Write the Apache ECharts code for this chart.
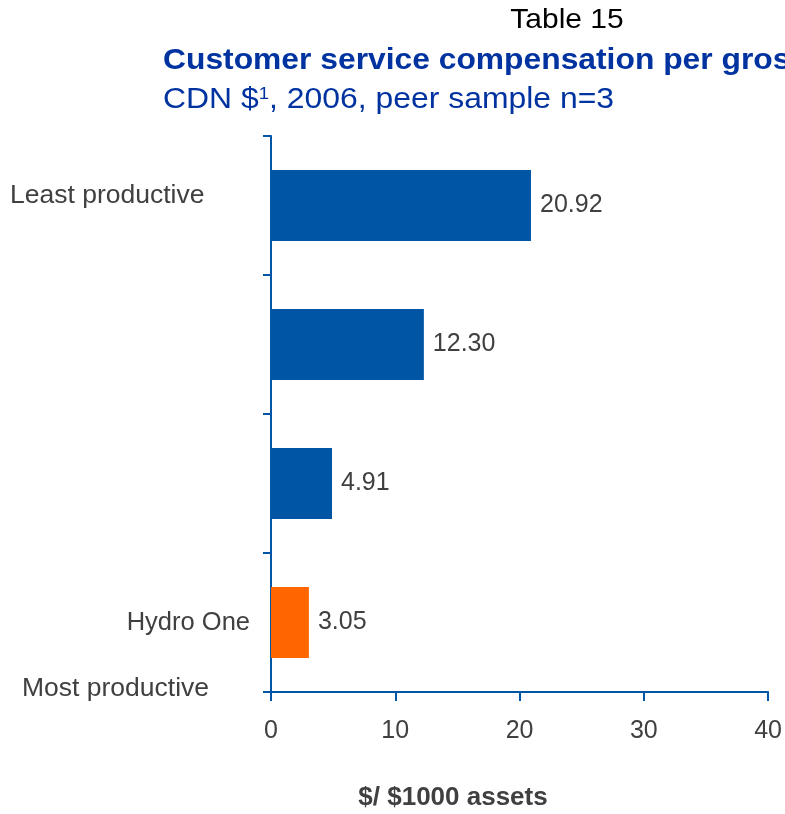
<!DOCTYPE html>
<html>
<head>
<meta charset="utf-8">
<title>Customer service compensation</title>
<script src="https://cdn.jsdelivr.net/npm/echarts@6/dist/echarts.min.js"></script>
<style>
  html, body { margin: 0; padding: 0; background: #ffffff; }
  #chart { width: 785px; height: 814px; }
</style>
</head>
<body>
<div id="chart"></div>
<script>
// Peer utilities ranked from least to most productive
const categories = ['Peer 1', 'Peer 2', 'Peer 3', 'Hydro One'];
const values = [20.92, 12.30, 4.91, 3.05];
const highlightCategory = 'Hydro One';
const xTicks = { min: 0, max: 40, interval: 10 };

const BLUE = '#0055a4';
const ORANGE = '#ff6600';
const TITLE_BLUE = '#0033a0';
const GREY = '#404040';
const FONT = '"Liberation Sans", Arial, sans-serif';

const chart = echarts.init(document.getElementById('chart'), null, { renderer: 'canvas' });

chart.setOption({
  animation: false,
  backgroundColor: '#ffffff',
  textStyle: { fontFamily: FONT },
  grid: { left: 271, top: 136, width: 500, height: 556, containLabel: false },
  xAxis: {
    type: 'value',
    min: xTicks.min,
    max: xTicks.max,
    interval: xTicks.interval,
    axisLine: { show: true, lineStyle: { color: BLUE, width: 2 } },
    axisTick: { show: true, inside: false, length: 9, lineStyle: { color: BLUE, width: 2 } },
    axisLabel: { color: GREY, fontSize: 25, fontFamily: FONT, margin: 27 },
    splitLine: { show: false }
  },
  yAxis: {
    type: 'category',
    inverse: true,
    data: categories,
    axisLine: { show: true, lineStyle: { color: BLUE, width: 2 } },
    axisTick: { show: true, inside: false, length: 8, alignWithLabel: false, lineStyle: { color: BLUE, width: 2 } },
    axisLabel: {
      color: GREY, fontSize: 25.5, fontFamily: FONT, margin: 21,
      formatter: v => (v === highlightCategory ? v : '')
    }
  },
  series: [{
    type: 'bar',
    barWidth: '51%',
    data: values.map((v, i) => ({
      value: v,
      itemStyle: { color: categories[i] === highlightCategory ? ORANGE : BLUE }
    })),
    label: {
      show: true,
      position: 'right',
      distance: 9,
      color: GREY,
      fontSize: 25,
      fontFamily: FONT,
      formatter: p => p.value.toFixed(2)
    }
  }],
  graphic: [
    {
      // page heading, set slightly wide
      type: 'text', x: 567, y: 20, scaleX: 1.07,
      style: { text: 'Table 15', x: 0, y: 0, fill: '#000000', font: '28px ' + FONT, textAlign: 'center', textVerticalAlign: 'middle' }
    },
    {
      type: 'text', x: 163, y: 61, scaleX: 1.06,
      style: { text: 'Customer service compensation per gross assets', x: 0, y: 0, fill: TITLE_BLUE, font: 'bold 30px ' + FONT, textAlign: 'left', textVerticalAlign: 'middle' }
    },
    {
      type: 'text', x: 163, y: 100, scaleX: 1.1,
      style: {
        x: 0, y: 0,
        text: '{m|CDN $}{s|1}{m|, 2006, peer sample n=3}',
        textAlign: 'left', textVerticalAlign: 'middle',
        rich: {
          m: { fill: TITLE_BLUE, font: '29px ' + FONT },
          s: { fill: TITLE_BLUE, font: '17px ' + FONT, verticalAlign: 'top', padding: [0, 0, 11, 0] }
        }
      }
    },
    {
      type: 'text',
      style: { text: 'Least productive', x: 10, y: 196, fill: GREY, font: '26.5px ' + FONT, textAlign: 'left', textVerticalAlign: 'middle' }
    },
    {
      type: 'text',
      style: { text: 'Most productive', x: 22, y: 689, fill: GREY, font: '26.5px ' + FONT, textAlign: 'left', textVerticalAlign: 'middle' }
    },
    {
      type: 'text',
      style: { text: '$/ $1000 assets', x: 453, y: 798, fill: GREY, font: 'bold 26px ' + FONT, textAlign: 'center', textVerticalAlign: 'middle' }
    }
  ]
});
</script>
</body>
</html>
